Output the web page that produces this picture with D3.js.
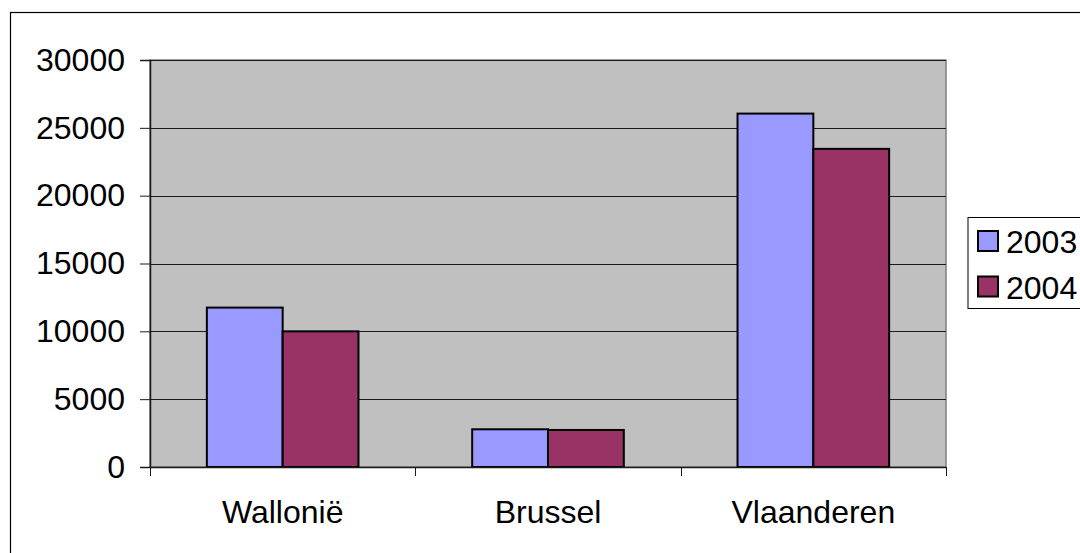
<!DOCTYPE html>
<html><head><meta charset="utf-8">
<script src="https://cdn.jsdelivr.net/npm/d3@7"></script>
<style>
html,body{margin:0;padding:0;background:#fff;}
svg{display:block;font-family:"Liberation Sans",Arial,sans-serif;}
</style></head>
<body>
<svg id="c" width="1080" height="553"></svg>
<script>
const categories = ["Wallonië", "Brussel", "Vlaanderen"];
const seriesNames = ["2003", "2004"];
const values2003 = [11750, 2780, 26050];
const values2004 = [10000, 2730, 23450];
const yTicks = [0, 5000, 10000, 15000, 20000, 25000, 30000];
const colors = ["#9999FF", "#993366"];

const svg = d3.select("#c");
const L = 150, R = 946, T = 60, B = 467;
const FS = 32;

// outer chart border
svg.append("rect").attr("x", 10.5).attr("y", 12.5).attr("width", 1100).attr("height", 600)
  .attr("fill", "#fff").attr("stroke", "#000").attr("stroke-width", 1.2);

const x = d3.scaleBand().domain(categories).range([L, R]).padding(0);
const xs = d3.scaleBand().domain(seriesNames).range([0, x.bandwidth()]).paddingInner(0).paddingOuter(0.75);
const y = d3.scaleLinear().domain([0, 30000]).range([B, T]);

// plot background
svg.append("rect").attr("x", L).attr("y", T).attr("width", R - L).attr("height", B - T)
  .attr("fill", "#C0C0C0").attr("stroke", "#808080").attr("stroke-width", 1.5);

// gridlines
svg.append("g").selectAll("line").data(yTicks.filter(d => d > 0)).join("line")
  .attr("x1", L).attr("x2", R)
  .attr("y1", d => Math.round(y(d)) + 0.5).attr("y2", d => Math.round(y(d)) + 0.5)
  .attr("stroke", "#1a1a1a").attr("stroke-width", 1);

// bars
const data = categories.map((c, i) => ({cat: c, vals: [values2003[i], values2004[i]]}));
const g = svg.append("g").selectAll("g").data(data).join("g")
  .attr("transform", d => `translate(${x(d.cat)},0)`);
g.selectAll("rect").data(d => d.vals.map((v, j) => ({s: seriesNames[j], v, j}))).join("rect")
  .attr("x", d => xs(d.s)).attr("width", xs.bandwidth())
  .attr("y", d => y(d.v)).attr("height", d => y(0) - y(d.v))
  .attr("fill", d => colors[d.j]).attr("stroke", "#000").attr("stroke-width", 2);

// y axis
const yAxis = svg.append("g").attr("transform", `translate(${L},0)`)
  .call(d3.axisLeft(y).tickValues(yTicks).tickSize(10).tickPadding(15).tickFormat(d3.format("d")));
yAxis.select(".domain").attr("stroke", "#1a1a1a").attr("stroke-width", 1.5);
yAxis.selectAll(".tick line").attr("stroke", "#1a1a1a");
yAxis.selectAll("text").attr("font-size", FS).attr("fill", "#000")
  .attr("font-family", "Liberation Sans, Arial, sans-serif");

// x axis
const xAxis = svg.append("g").attr("transform", `translate(0,${B})`)
  .call(d3.axisBottom(x).tickSize(0).tickPadding(33));
xAxis.select(".domain").attr("stroke", "#1a1a1a").attr("stroke-width", 1.5);
xAxis.selectAll("text").attr("font-size", FS).attr("fill", "#000")
  .attr("font-family", "Liberation Sans, Arial, sans-serif");
// category boundary ticks
const bounds = categories.map(c => x(c)).concat([x(categories[categories.length - 1]) + x.bandwidth()]);
svg.append("g").selectAll("line").data(bounds).join("line")
  .attr("x1", d => Math.round(d) + 0.5).attr("x2", d => Math.round(d) + 0.5)
  .attr("y1", B).attr("y2", B + 9).attr("stroke", "#1a1a1a").attr("stroke-width", 1);

// legend
const lg = svg.append("g");
lg.append("rect").attr("x", 968).attr("y", 217.5).attr("width", 200).attr("height", 91)
  .attr("fill", "#fff").attr("stroke", "#000").attr("stroke-width", 1);
seriesNames.forEach((s, i) => {
  const yy = 231 + i * 45.5;
  lg.append("rect").attr("x", 978).attr("y", yy).attr("width", 20).attr("height", 20)
    .attr("fill", colors[i]).attr("stroke", "#000").attr("stroke-width", 2);
  lg.append("text").attr("x", 1006).attr("y", yy + 22).attr("font-size", FS).attr("fill", "#000").text(s);
});
</script>
</body></html>
